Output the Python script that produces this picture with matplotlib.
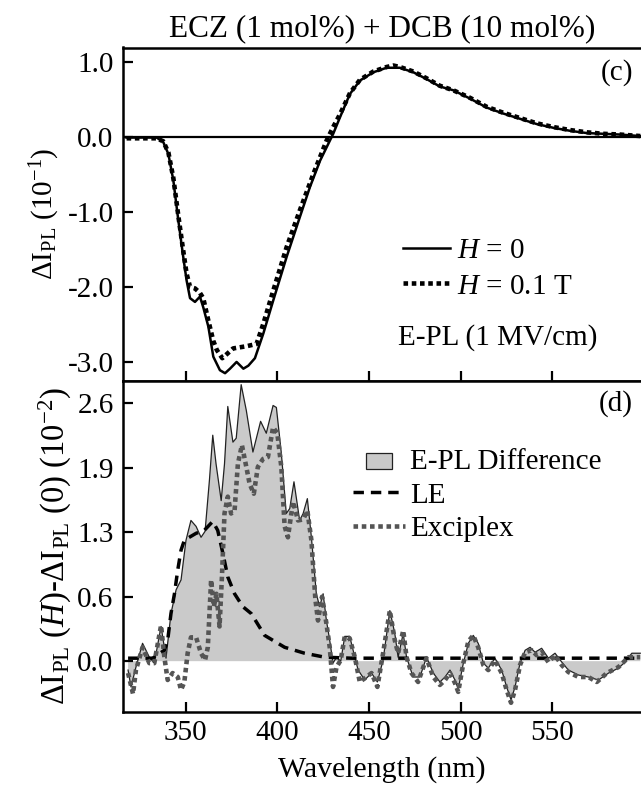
import numpy as np
import matplotlib
matplotlib.use("Agg")
import matplotlib.pyplot as plt
from matplotlib.patches import Patch, Rectangle
from matplotlib.lines import Line2D
from matplotlib.legend_handler import HandlerPatch

plt.rcParams['font.family'] = ['Liberation Serif', 'DejaVu Serif']
plt.rcParams['mathtext.fontset'] = 'custom'
plt.rcParams['mathtext.rm'] = 'Liberation Serif'
plt.rcParams['mathtext.it'] = 'Liberation Serif:italic'
plt.rcParams['mathtext.bf'] = 'Liberation Serif:bold'

# ---------------- data: panel (c) ----------------
wl_h0 = [317.8, 334.2, 337.8, 340.6, 343.3, 346.0, 348.7, 350.5, 352.4, 355.1, 357.8, 359.6,
         362.4, 365.1, 368.7, 371.5, 374.2, 377.8, 381.5, 384.2, 387.8, 392.4, 397.8, 405.1,
         412.3, 417.8, 423.3, 426.9, 430.5, 434.2, 439.6, 445.1, 452.4, 459.6, 466.9, 474.2,
         481.4, 488.7, 496.0, 505.1, 514.2, 523.3, 532.4, 541.5, 550.6, 559.7, 568.8, 577.9,
         587.0, 598.0]
epl_h0 = [-0.01, -0.01, -0.07, -0.23, -0.58, -1.11, -1.60, -1.91, -2.15, -2.20, -2.13, -2.27,
          -2.53, -2.93, -3.11, -3.15, -3.09, -3.00, -3.09, -3.05, -2.95, -2.62, -2.18, -1.60,
          -1.07, -0.67, -0.32, -0.14, 0.04, 0.26, 0.57, 0.75, 0.86, 0.92, 0.92, 0.86,
          0.77, 0.67, 0.62, 0.51, 0.39, 0.31, 0.24, 0.17, 0.12, 0.08, 0.05, 0.04,
          0.03, 0.01]

wl_h01 = [317.8, 334.2, 337.8, 340.6, 343.3, 346.0, 348.7, 350.5, 352.4, 355.1, 357.8, 359.6,
          362.4, 365.1, 367.0, 370.0, 375.9, 383.3, 388.7, 392.4, 397.8, 405.1, 412.3, 419.6,
          426.9, 430.5, 434.2, 439.6, 445.1, 452.4, 459.6, 463.3, 466.9, 474.2, 481.4, 488.7,
          496.0, 505.1, 514.2, 523.3, 532.4, 541.5, 550.6, 559.7, 568.8, 577.9, 587.0, 598.0]
epl_h01 = [-0.02, -0.02, -0.06, -0.21, -0.55, -1.05, -1.52, -1.82, -2.00, -2.02, -2.08, -2.15,
           -2.45, -2.72, -2.84, -2.95, -2.82, -2.79, -2.76, -2.49, -2.05, -1.47, -0.98, -0.50,
           -0.05, 0.13, 0.30, 0.58, 0.76, 0.87, 0.93, 0.95, 0.93, 0.87,
           0.78, 0.68, 0.62, 0.52, 0.40, 0.32, 0.25, 0.18, 0.13, 0.09, 0.06, 0.04, 0.03, 0.01]

# ---------------- data: panel (d) ----------------
wl_diff = [318.6, 320.2, 322.9, 326.5, 330.2, 332.9, 336.6, 339.3, 342.0, 344.8, 347.5, 350.2,
           352.9, 355.7, 358.4, 360.6, 363.0, 364.8, 366.6, 369.4, 371.2, 373.0, 375.8, 377.6,
           380.3, 383.1, 386.7, 390.9, 394.0, 397.7, 399.5, 402.2, 404.9, 406.8, 409.1, 412.2,
           414.1, 416.4, 418.6, 421.3, 423.1, 425.0, 426.8, 428.6, 430.4, 432.3, 434.6, 436.8,
           439.5, 442.3, 444.1, 447.7, 451.4, 454.6, 457.7, 461.4, 464.1, 465.9, 468.7, 470.5,
           474.1, 477.8, 481.4, 485.1, 488.7, 491.5, 494.2, 496.9, 498.7, 501.5, 504.2, 506.9,
           509.6, 512.4, 515.1, 518.7, 522.4, 525.1, 527.5, 529.7, 532.4, 535.2, 537.9, 540.6,
           544.2, 547.9, 551.5, 555.2, 558.8, 564.3, 569.7, 575.2, 580.7, 586.1, 589.7, 593.4,
           598.0]
epl_diff = [-0.09, -0.26, -0.06, 0.18, 0.04, -0.02, 0.35, 0.03, 0.48, 0.72, 0.82, 1.22,
            1.42, 1.36, 1.25, 1.31, 1.83, 2.28, 1.99, 1.62, 1.99, 2.57, 2.21, 2.25,
            2.79, 2.53, 2.11, 2.42, 2.30, 2.58, 2.56, 2.10, 1.49, 1.54, 1.81, 1.42,
            1.49, 1.64, 1.25, 0.68, 0.55, 0.68, 0.41, 0.21, -0.02, 0.04, 0.00, 0.25,
            0.25, 0.04, -0.09, -0.19, -0.12, -0.21, 0.01, 0.51, 0.28, 0.04, 0.28, 0.04,
            -0.16, -0.16, 0.04, -0.12, -0.21, -0.16, -0.09, -0.19, -0.28, -0.02, 0.18, 0.26,
            0.18, -0.02, -0.07, 0.03, -0.09, -0.26, -0.39, -0.26, -0.02, 0.11, 0.14, 0.09,
            0.13, 0.03, 0.08, -0.01, -0.09, -0.14, -0.16, -0.19, -0.12, -0.07, -0.01, 0.08,
            0.08]

wl_exc = [318.6, 321.3, 322.9, 326.5, 330.2, 332.9, 336.6, 338.4, 340.2, 342.9, 345.7, 347.5,
          349.3, 351.1, 352.9, 355.7, 358.4, 360.6, 362.1, 363.9, 365.4, 366.8, 368.5, 369.8,
          371.2, 373.0, 374.8, 376.7, 378.5, 380.7, 383.1, 384.9, 387.2, 389.4, 392.2, 394.9,
          397.7, 400.0, 402.2, 404.0, 405.8, 408.6, 411.3, 414.1, 416.4, 418.6, 420.8, 422.2,
          424.4, 426.8, 428.6, 430.4, 432.3, 434.6, 436.8, 439.5, 442.3, 445.0, 448.6, 451.4,
          454.6, 457.7, 461.4, 464.1, 465.9, 468.7, 470.5, 473.2, 476.8, 481.4, 485.1, 488.7,
          491.5, 494.2, 496.9, 498.7, 501.5, 504.2, 506.9, 509.6, 512.4, 515.1, 518.7, 522.4,
          525.1, 527.5, 529.7, 532.4, 535.2, 538.8, 541.5, 544.2, 547.9, 551.5, 555.2, 558.8,
          564.3, 569.7, 574.3, 579.8, 586.1, 591.6, 598.0]
epl_exc = [-0.12, -0.33, -0.09, 0.14, -0.02, -0.02, 0.36, 0.04, -0.19, -0.12, -0.16, -0.29,
           -0.21, 0.08, 0.24, 0.24, 0.08, 0.01, 0.14, 0.82, 0.55, 0.68, 0.35, 0.85,
           1.49, 1.66, 1.49, 1.52, 1.99, 2.18, 1.96, 1.79, 1.69, 1.96, 2.04, 2.06,
           2.36, 2.30, 1.96, 1.36, 1.25, 1.61, 1.42, 1.43, 1.52, 1.22, 0.62, 0.41,
           0.65, 0.38, 0.14, -0.26, -0.06, 0.01, 0.25, 0.23, 0.04, -0.21, -0.16, -0.12,
           -0.26, 0.08, 0.51, 0.21, 0.08, 0.31, 0.04, -0.12, -0.21, 0.03, -0.16, -0.24,
           -0.19, -0.12, -0.22, -0.31, -0.02, 0.20, 0.26, 0.14, -0.04, -0.09, 0.01, -0.12,
           -0.29, -0.42, -0.29, -0.04, 0.09, 0.11, 0.06, 0.09, -0.01, 0.06, -0.04, -0.11,
           -0.16, -0.16, -0.21, -0.12, -0.06, 0.04, 0.04]

wl_le = [318.6, 332.0, 338.4, 340.2, 342.0, 343.9, 345.7, 347.5, 349.3, 352.0, 355.7, 360.2,
         364.8, 367.5, 370.3, 373.0, 376.7, 381.2, 385.8, 393.1, 404.0, 414.9, 425.9, 440.4,
         598.0]
epl_le = [0.03, 0.03, 0.11, 0.21, 0.48, 0.68, 0.92, 1.12, 1.22, 1.25, 1.29, 1.32,
          1.41, 1.32, 1.09, 0.85, 0.68, 0.55, 0.48, 0.26, 0.14, 0.08, 0.04, 0.03,
          0.03]

# ---------------- ticks ----------------
x_ticks = [350, 400, 450, 500, 550]
c_ticks = [1.0, 0.0, -1.0, -2.0, -3.0]
c_ticklabels = ['1.0', '0.0', '-1.0', '-2.0', '-3.0']
d_ticks = [0.0, 0.65, 1.3, 1.95, 2.6]
d_ticklabels = ['0.0', '0.6', '1.3', '1.9', '2.6']

W, H = 641, 795
fig = plt.figure(figsize=(W / 100, H / 100), dpi=100)

left = 123.3 / W
right = 1.0
y_top = 47.5
y_mid = 380.7
y_bot = 711.7
ax1 = fig.add_axes([left, 1 - y_mid / H, right - left, (y_mid - y_top) / H])
ax2 = fig.add_axes([left, 1 - y_bot / H, right - left, (y_bot - y_mid) / H])

FS = 21
FILL = '#cacaca'
for ax in (ax1, ax2):
    ax.set_xlim(316, 598.4)
    ax.set_xticks(x_ticks)
    ax.tick_params(direction='in', length=7, width=1.6, labelsize=FS, top=False, right=False)
    ax.tick_params(axis='y', pad=7)
    ax.tick_params(axis='x', pad=6)
    for s in ('left', 'bottom', 'top'):
        ax.spines[s].set_linewidth(1.8)
    ax.spines['right'].set_visible(False)

# panel (c)
ax1.axhline(0, color='black', lw=1.6, zorder=1)
ax1.plot(wl_h0, epl_h0, color='black', lw=1.8, zorder=3)
ax1.plot(wl_h01, epl_h01, color='black', lw=3.3, dashes=(1.0, 0.8), dash_capstyle='butt', zorder=2)
ax1.set_ylim(-3.25, 1.19)
ax1.set_yticks(c_ticks)
ax1.set_yticklabels(c_ticklabels)
ax1.tick_params(axis='x', labelbottom=False)
ax1.set_ylabel(r'$\Delta\mathrm{I}_{\mathrm{PL}}$ (10$^{\mathrm{-1}}$)', fontsize=21, labelpad=4)
ax1.text(0.985, 0.925, '(c)', transform=ax1.transAxes, ha='right', va='center', fontsize=FS)
ax1.legend(handles=[
    Line2D([], [], color='black', lw=1.8),
    Line2D([], [], color='black', lw=3.3, dashes=(1.0, 0.8), dash_capstyle='butt')],
    labels=[r'$H$ = 0', r'$H$ = 0.1 T'],
    loc='upper left', bbox_to_anchor=(0.54, 0.43), frameon=False, fontsize=FS,
    handlelength=1.6, handletextpad=0.25, labelspacing=0.32, borderaxespad=0, borderpad=0)
ax1.text(0.531, 0.131, 'E-PL (1 MV/cm)', transform=ax1.transAxes, ha='left', va='center', fontsize=FS)


# panel (d)
def small_rect(legend, orig_handle, xdescent, ydescent, width, height, fontsize):
    return Rectangle((-xdescent + 0.25 * width, -ydescent + 0.0 * height), 0.5 * width, 0.8 * height)


ax2.fill_between(wl_diff, 0, epl_diff, facecolor=FILL, edgecolor='none', zorder=1)
ax2.plot(wl_diff, epl_diff, color='#222222', lw=0.9, zorder=2)
ax2.plot(wl_le, epl_le, color='black', lw=2.5, dashes=(3.0, 2.0), zorder=3)
ax2.plot(wl_exc, epl_exc, color='#555555', lw=3.3, dashes=(1.0, 0.8), dash_capstyle='butt', zorder=4)
ax2.set_ylim(-0.51, 2.83)
ax2.set_yticks(d_ticks)
ax2.set_yticklabels(d_ticklabels)
ax2.set_xlabel('Wavelength (nm)', fontsize=21.5, labelpad=7)
ax2.set_ylabel(r'$\Delta\mathrm{I}_{\mathrm{PL}}$ ($H$)-$\Delta\mathrm{I}_{\mathrm{PL}}$ (0) (10$^{\mathrm{-2}}$)',
               fontsize=23.5, labelpad=2)
ax2.text(0.985, 0.93, '(d)', transform=ax2.transAxes, ha='right', va='center', fontsize=FS)
fill_handle = Patch(facecolor=FILL, edgecolor='#222222', lw=0.9)
ax2.legend(handles=[
    fill_handle,
    Line2D([], [], color='black', lw=2.5, dashes=(3.0, 2.0)),
    Line2D([], [], color='#555555', lw=3.3, dashes=(1.0, 0.8), dash_capstyle='butt')],
    labels=['E-PL Difference', 'LE', 'Exciplex'],
    handler_map={fill_handle: HandlerPatch(patch_func=small_rect)},
    loc='upper left', bbox_to_anchor=(0.4437, 0.795), frameon=False, fontsize=FS,
    handlelength=1.78, handletextpad=0.17, labelspacing=0.25, borderaxespad=0, borderpad=0)

fig.text((123.3 + 641) / 2 / W, 1 - 36 / H, 'ECZ (1 mol%) + DCB (10 mol%)', ha='center', va='baseline',
         fontsize=22.5)

fig.savefig('out.png', dpi=100)
